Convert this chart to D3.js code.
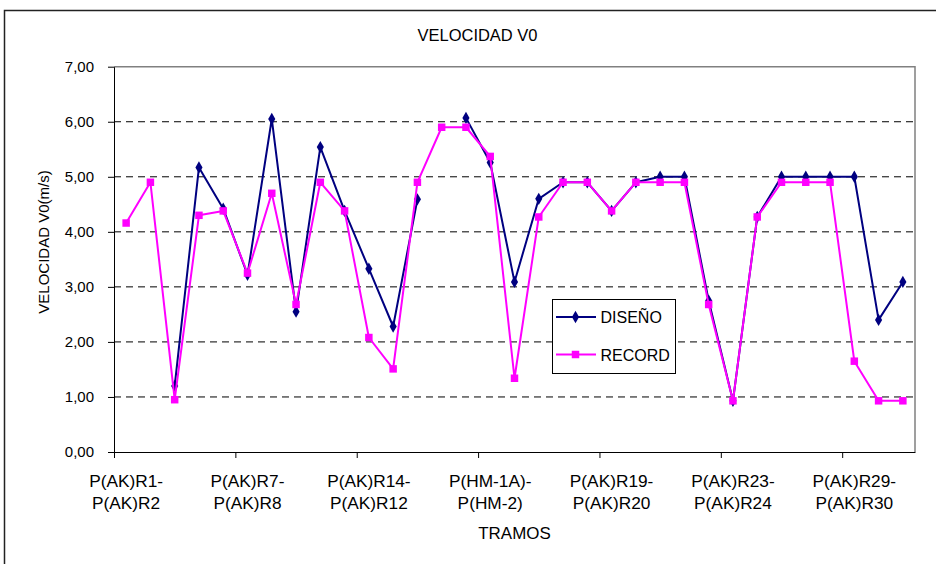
<!DOCTYPE html>
<html>
<head>
<meta charset="utf-8">
<script src="https://cdn.jsdelivr.net/npm/d3@7"></script>
<style>
  html, body { margin: 0; padding: 0; background: #fff; }
  svg { display: block; font-family: "Liberation Sans", Arial, sans-serif; }
</style>
</head>
<body>
<svg id="chart" width="936" height="564"></svg>
<script>
// Tramos (road sections), numbered in order along the category axis
const tramos = d3.range(33);

// Velocity V0 (m/s) for each tramo; null = no design value
const diseno = [null, null, 1.20, 5.17, 4.42, 3.22, 6.05, 2.55, 5.54, 4.38, 3.33,
                2.28, 4.59, null, 6.07, 5.26, 3.09, 4.60, 4.90, 4.90, 4.38, 4.90,
                5.00, 5.00, 2.75, 0.93, 4.27, 5.00, 5.00, 5.00, 5.00, 2.40, 3.09];
const record = [4.16, 4.90, 0.95, 4.30, 4.38, 3.25, 4.70, 2.68, 4.90, 4.38, 2.08,
                1.51, 4.90, 5.90, 5.90, 5.37, 1.34, 4.27, 4.90, 4.90, 4.38, 4.90,
                4.90, 4.90, 2.68, 0.93, 4.27, 4.90, 4.90, 4.90, 1.65, 0.93, 0.93];

// Category labels shown every fifth tramo
const labelIndex = [0, 5, 10, 15, 20, 25, 30];
const labelLines = [
  ["P(AK)R1-", "P(AK)R2"],
  ["P(AK)R7-", "P(AK)R8"],
  ["P(AK)R14-", "P(AK)R12"],
  ["P(HM-1A)-", "P(HM-2)"],
  ["P(AK)R19-", "P(AK)R20"],
  ["P(AK)R23-", "P(AK)R24"],
  ["P(AK)R29-", "P(AK)R30"]
];
const yTicks = [0, 1, 2, 3, 4, 5, 6, 7];
const seriesNames = ["DISEÑO", "RECORD"];

const svg = d3.select("#chart");
const plot = { left: 114, right: 915, top: 66.7, bottom: 452 };

// Outer chart frame
svg.append("rect")
  .attr("x", 4.5).attr("y", 10.5).attr("width", 1000).attr("height", 700)
  .attr("fill", "#fff").attr("stroke", "#222").attr("stroke-width", 1.5);

const x = d3.scaleBand().domain(tramos).range([plot.left, plot.right]).padding(0);
const cx = i => x(i) + x.bandwidth() / 2;
const xEdge = d3.scaleLinear().domain([0, tramos.length]).range([plot.left, plot.right]);
const y = d3.scaleLinear().domain([0, 7]).range([plot.bottom, plot.top]);

const locale = d3.formatLocale({ decimal: ",", thousands: ".", grouping: [3], currency: ["", ""] });
const fmt = locale.format(".2f");

// Plot frame (top and right edges in grey)
svg.append("path")
  .attr("d", `M${plot.left},${plot.top}H${plot.right}V${plot.bottom}`)
  .attr("fill", "none").attr("stroke", "#808080").attr("stroke-width", 1.5);

// Dashed horizontal gridlines
svg.append("g").selectAll("line")
  .data(yTicks.filter(v => v > 0 && v < 7))
  .join("line")
  .attr("x1", plot.left).attr("x2", plot.right)
  .attr("y1", d => y(d)).attr("y2", d => y(d))
  .attr("stroke", "#000").attr("stroke-width", 1)
  .attr("stroke-dasharray", "7,5");

// Y axis
const yAxis = svg.append("g")
  .attr("transform", `translate(${plot.left},0)`)
  .call(d3.axisLeft(y).tickValues(yTicks).tickFormat(fmt).tickSize(6).tickSizeOuter(0).tickPadding(14));
yAxis.selectAll("path, line").attr("stroke", "#000");
yAxis.selectAll("text").attr("font-size", 15).attr("font-family", "Liberation Sans, Arial, sans-serif").attr("fill", "#000");

// X axis (tick marks every five tramos)
const xAxis = svg.append("g")
  .attr("transform", `translate(0,${plot.bottom})`)
  .call(d3.axisBottom(xEdge).tickValues(labelIndex).tickFormat("").tickSize(6).tickSizeOuter(0));
xAxis.selectAll("path, line").attr("stroke", "#000");

// X category labels (two lines each)
const xl = svg.append("g").attr("font-size", 16).attr("fill", "#000");
labelIndex.forEach((idx, k) => {
  const px = cx(idx);
  const t = xl.append("text")
    .attr("text-anchor", "middle")
    .attr("transform", `translate(${px},0) scale(1.08,1)`);
  labelLines[k].forEach((ln, j) => {
    t.append("tspan").attr("x", 0).attr("y", 487 + j * 22).text(ln);
  });
});

// Titles
svg.append("text")
  .attr("transform", "translate(477.5,40.5) scale(1.03,1)")
  .attr("text-anchor", "middle").attr("font-size", 16).text("VELOCIDAD V0");
svg.append("text")
  .attr("transform", `translate(${(plot.left + plot.right) / 2},539) scale(1.06,1)`)
  .attr("text-anchor", "middle").attr("font-size", 16).text("TRAMOS");
svg.append("text")
  .attr("transform", "translate(48.5,242) rotate(-90)")
  .attr("text-anchor", "middle").attr("font-size", 15).text("VELOCIDAD V0(m/s)");

// Series
const line = d3.line()
  .defined(d => d.v != null)
  .x(d => cx(d.i))
  .y(d => y(d.v));

const series = [
  { name: seriesNames[0], values: diseno, color: "#000080", shape: d3.symbolDiamond, size: 44 },
  { name: seriesNames[1], values: record, color: "#FF00FF", shape: d3.symbolSquare, size: 56 }
];

series.forEach(s => {
  const pts = s.values.map((v, i) => ({ i, v }));
  const g = svg.append("g");
  g.append("path")
    .datum(pts)
    .attr("d", line)
    .attr("fill", "none").attr("stroke", s.color).attr("stroke-width", 2)
    .attr("stroke-linejoin", "round");
  g.selectAll("path.m")
    .data(pts.filter(d => d.v != null))
    .join("path").attr("class", "m")
    .attr("transform", d => `translate(${cx(d.i)},${y(d.v)})`)
    .attr("d", d3.symbol().type(s.shape).size(s.size))
    .attr("fill", s.color);
});

// Legend
const lg = svg.append("g");
lg.append("rect").attr("x", 552.5).attr("y", 299.5).attr("width", 123).attr("height", 74)
  .attr("fill", "#fff").attr("stroke", "#000").attr("stroke-width", 1);
series.forEach((s, k) => {
  const ly = 317 + k * 37.5;
  lg.append("line").attr("x1", 556).attr("x2", 596).attr("y1", ly).attr("y2", ly)
    .attr("stroke", s.color).attr("stroke-width", 2);
  lg.append("path").attr("transform", `translate(575.5,${ly})`)
    .attr("d", d3.symbol().type(s.shape).size(s.size)).attr("fill", s.color);
  lg.append("text").attr("x", 600.5).attr("y", ly + 6).attr("font-size", 16).text(s.name);
});
</script>
</body>
</html>
